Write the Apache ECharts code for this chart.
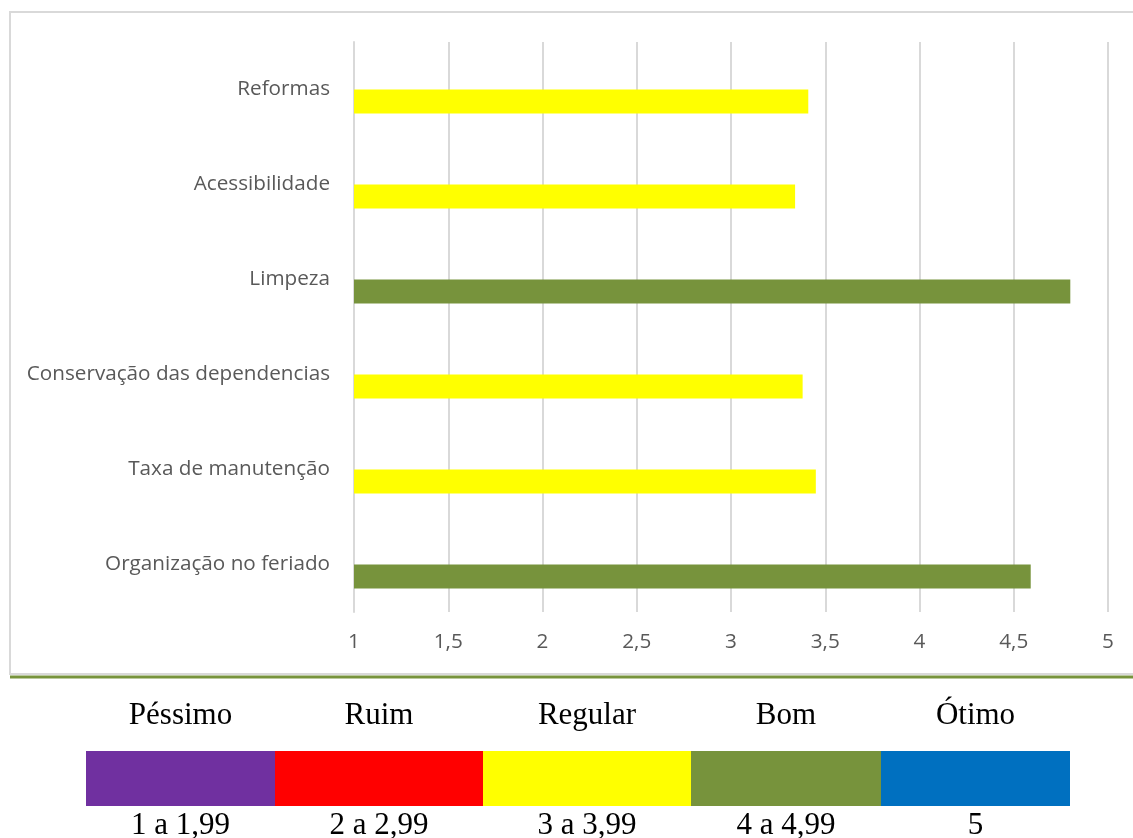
<!DOCTYPE html>
<html>
<head>
<meta charset="utf-8">
<script src="https://cdn.jsdelivr.net/npm/echarts@6/dist/echarts.min.js"></script>
<style>
html,body{margin:0;padding:0;background:#fff;}
#chart{width:1133px;height:838px;}
</style>
</head>
<body>
<div id="chart"></div>
<script>
// ---- data ----
const categories = ['Organização no feriado','Taxa de manutenção','Conservação das dependencias','Limpeza','Acessibilidade','Reformas'];
const scores = [4.59, 3.45, 3.38, 4.80, 3.34, 3.41];
const xTicks = [1, 1.5, 2, 2.5, 3, 3.5, 4, 4.5, 5];
const legendNames = ['Péssimo','Ruim','Regular','Bom','Ótimo'];
const legendRanges = ['1 a 1,99','2 a 2,99','3 a 3,99','4 a 4,99','5'];
const legendColors = ['#7030A0','#FF0000','#FFFF00','#77933C','#0070C0'];
const legendThresholds = [1, 2, 3, 4, 5];

// ---- layout ----
const segWidths = [189, 208, 208, 190, 189];
const stripLeft = 86, stripTop = 751, stripHeight = 55;

function colorFor(v){
  let c = legendColors[0];
  for (let i = 0; i < legendThresholds.length; i++) if (v >= legendThresholds[i]) c = legendColors[i];
  return c;
}

const graphics = [
  {type:'rect', shape:{x:10, y:12, width:1140, height:662}, style:{fill:'none', stroke:'#d9d9d9', lineWidth:2}, silent:true},
  {type:'line', shape:{x1:10, y1:677, x2:1133, y2:677}, style:{stroke:'#77933C', lineWidth:3}, silent:true}
];
let xCursor = stripLeft;
for (let i = 0; i < legendNames.length; i++) {
  const w = segWidths[i];
  graphics.push({type:'rect', shape:{x:xCursor, y:stripTop, width:w, height:stripHeight}, style:{fill:legendColors[i]}, silent:true});
  graphics.push({type:'text', x:xCursor + w/2, y:716, style:{text:legendNames[i], fill:'#000', font:'31px "Liberation Serif", "Times New Roman", serif', textAlign:'center', textVerticalAlign:'middle'}, silent:true});
  graphics.push({type:'text', x:xCursor + w/2, y:826, style:{text:legendRanges[i], fill:'#000', font:'31px "Liberation Serif", "Times New Roman", serif', textAlign:'center', textVerticalAlign:'middle'}, silent:true});
  xCursor += w;
}

const chart = echarts.init(document.getElementById('chart'), null, {renderer:'canvas'});
chart.setOption({
  animation:false,
  backgroundColor:'#fff',
  grid:{left:354, right:25, top:42, bottom:226, containLabel:false},
  xAxis:{
    type:'value', min:xTicks[0], max:xTicks[xTicks.length-1], interval:0.5,
    axisLine:{show:false}, axisTick:{show:false},
    splitLine:{show:true, lineStyle:{color:'#d9d9d9', width:2}},
    axisLabel:{color:'#595959', fontSize:20.7, fontFamily:'"Open Sans", sans-serif', margin:20,
      formatter:v => String(v).replace('.', ',')}
  },
  yAxis:{
    type:'category', data:categories,
    axisLine:{show:true, lineStyle:{color:'#d9d9d9', width:2}},
    axisTick:{show:false},
    axisLabel:{color:'#595959', fontSize:20.7, fontFamily:'"Open Sans", sans-serif', margin:24}
  },
  series:[
    {type:'bar', name:'vazio', data:categories.map(() => null), barWidth:24, barGap:0, silent:true},
    {type:'bar', name:'Média', data:scores.map(v => ({value:v, itemStyle:{color:colorFor(v)}})), barWidth:24, barGap:0}
  ],
  graphic:graphics
});
</script>
</body>
</html>
